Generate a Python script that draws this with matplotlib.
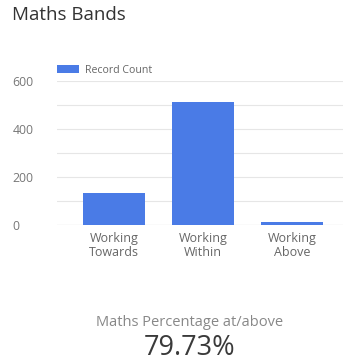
import matplotlib
matplotlib.use("Agg")
import matplotlib.pyplot as plt

# ── Data ──────────────────────────────────────────────────────────────────────
categories = ["Working\nTowards", "Working\nWithin", "Working\nAbove"]
record_count = [132, 511, 11]
y_ticks = [0, 200, 400, 600]
title = "Maths Bands"
kpi_label = "Maths Percentage at/above"
kpi_value = "79.73%"

BLUE = "#4a7be6"
plt.rcParams["font.family"] = ["Open Sans", "DejaVu Sans"]

W, H = 343, 363
fig = plt.figure(figsize=(W / 100, H / 100), dpi=100)
fig.patch.set_facecolor("white")

# axes in pixel coordinates: left 57, right 343, y0 at 225, y600 at 81
ax_l, ax_r = 57, 343
ax_bottom_px, ax_top_px = 225, 81
ax = fig.add_axes([ax_l / W, 1 - ax_bottom_px / H, (ax_r - ax_l) / W,
                   (ax_bottom_px - ax_top_px) / H])

x = list(range(len(categories)))
ax.bar(x, record_count, width=0.7, color=BLUE, zorder=3, label="Record Count")
ax.set_xlim(-0.64, 2.57)
ax.set_ylim(0, 600)
ax.set_yticks(y_ticks)
ax.set_yticks([100, 300, 500], minor=True)
ax.grid(axis="y", which="both", color="#e6e6e6", lw=0.8, zorder=0)
ax.set_xticks(x)
ax.set_xticklabels(categories, fontsize=9, color="#666666", linespacing=1.15)
ax.tick_params(axis="x", length=0, pad=5)
ax.tick_params(axis="y", which="both", length=0, pad=32, labelsize=8.8, labelcolor="#777777")
for lbl in ax.get_yticklabels():
    lbl.set_horizontalalignment("left")
for s in ax.spines.values():
    s.set_visible(False)
ax.axhline(0, color="#cccccc", lw=0.8, zorder=2)
ax.set_facecolor("white")

# legend
ax.legend(loc="lower left", bbox_to_anchor=(0.0, 1.035),
          frameon=False, fontsize=7.6, handlelength=2.1, handleheight=0.8,
          handletextpad=0.55, borderaxespad=0, borderpad=0,
          labelcolor="#666666")

fig.text(12 / W, 1 - 15 / H, title, fontsize=13.5, color="#333333",
         ha="left", va="center")
fig.text(190 / W, 1 - 323 / H, kpi_label, fontsize=10.5, color="#888888",
         ha="center", va="center")
fig.text(190 / W, 1 - 348 / H, kpi_value, fontsize=19.5, color="#3a3a3a",
         ha="center", va="center")

fig.savefig("out.png", dpi=100)
